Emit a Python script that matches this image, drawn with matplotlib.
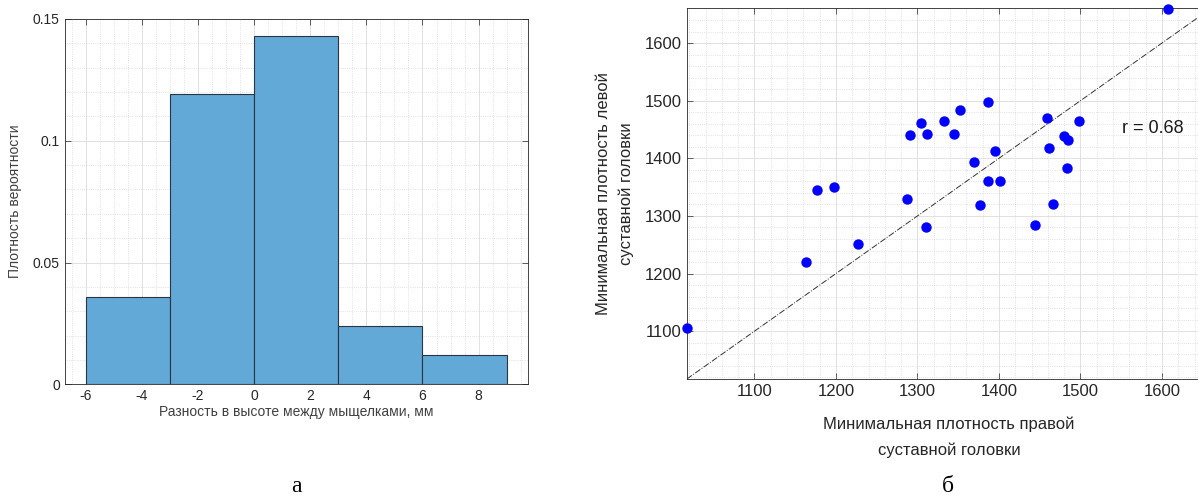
import numpy as np
import matplotlib.pyplot as plt
from matplotlib.ticker import MultipleLocator

plt.rcParams['font.family'] = ['Liberation Sans', 'DejaVu Sans']
plt.rcParams['axes.unicode_minus'] = False

# histogram (a): bin edges and probability density
bin_edges = [-6, -3, 0, 3, 6, 9]
density = [0.0357, 0.1190, 0.1429, 0.0238, 0.0119]
hist_yticks = [0, 0.05, 0.1, 0.15]
hist_yticklabels = ['0', '0.05', '0.1', '0.15']
hist_xticks = [-6, -4, -2, 0, 2, 4, 6, 8]

# scatter (б): min density right vs left condyle
right_min = [1017, 1163, 1177, 1198, 1227, 1287, 1291, 1304, 1312, 1310,
             1333, 1345, 1352, 1369, 1377, 1386, 1387, 1395, 1401, 1444,
             1459, 1462, 1466, 1480, 1485, 1483, 1498, 1607]
left_min = [1105, 1220, 1345, 1351, 1251, 1329, 1441, 1461, 1442, 1280,
            1464, 1443, 1483, 1394, 1319, 1497, 1360, 1413, 1360, 1284,
            1470, 1418, 1320, 1439, 1432, 1383, 1464, 1659]
sc_ticks = [1100, 1200, 1300, 1400, 1500, 1600]
r_text = 'r = 0.68'

axis_col = '#262626'


def matlab_style(ax, fs):
    for s in ax.spines.values():
        s.set_color(axis_col)
        s.set_linewidth(0.6)
    ax.tick_params(which='both', direction='in', top=True, right=True,
                   colors=axis_col, labelsize=fs, width=0.5)
    ax.tick_params(which='major', length=4)
    ax.tick_params(which='minor', length=0)
    ax.grid(True, which='major', color='#dcdcdc', linewidth=0.6)
    ax.grid(True, which='minor', color='#cfcfcf', linewidth=0.5, linestyle=':')
    ax.set_axisbelow(True)


fig = plt.figure(figsize=(11.98, 4.97), dpi=100)

# --- (a) histogram
ax1 = fig.add_axes([0.054, 0.2268, 0.3865, 0.735])
ax1.bar(bin_edges[:-1], density, width=np.diff(bin_edges), align='edge',
        color='#63a9d8', edgecolor='#2a3540', linewidth=0.8, zorder=3)
ax1.set_xlim(-6.75, 9.75)
ax1.set_ylim(0, 0.15)
ax1.set_xticks(hist_xticks)
ax1.set_yticks(hist_yticks)
ax1.set_yticklabels(hist_yticklabels)
ax1.xaxis.set_minor_locator(MultipleLocator(0.5))
ax1.yaxis.set_minor_locator(MultipleLocator(0.01))
matlab_style(ax1, 10)
ax1.set_xlabel('Разность в высоте между мыщелками, мм', fontsize=10,
               color='#404040', labelpad=1)
ax1.set_ylabel('Плотность вероятности', fontsize=10, color='#404040',
               labelpad=8)

# --- (б) scatter
ax2 = fig.add_axes([0.5733, 0.2374, 0.4374, 0.7455])
ax2.axline((1100, 1100), slope=1, color='#333333', linestyle='-.',
           linewidth=0.7, zorder=2)
ax2.scatter(right_min, left_min, s=42, color='#0000ff', zorder=4,
            clip_on=False)
ax2.set_xlim(1017, 1660)
ax2.set_ylim(1017, 1660)
ax2.set_xticks(sc_ticks)
ax2.set_yticks(sc_ticks)
ax2.xaxis.set_minor_locator(MultipleLocator(20))
ax2.yaxis.set_minor_locator(MultipleLocator(20))
matlab_style(ax2, 12)
ax2.text(1551, 1451, r_text, fontsize=13, color='#1a1a1a', va='center')
ax2.set_xlabel('Минимальная плотность правой\nсуставной головки',
               fontsize=12, color='#262626', labelpad=13, linespacing=1.8)
ax2.set_ylabel('Минимальная плотность левой\nсуставной головки',
               fontsize=12, color='#262626', labelpad=8, linespacing=1.55)

# subplot captions
fig.text(296 / 1198, 1 - 487 / 497, 'а', fontsize=17,
         family='Liberation Serif', ha='center', va='center')
fig.text(948 / 1198, 1 - 487 / 497, 'б', fontsize=17,
         family='Liberation Serif', ha='center', va='center')

fig.savefig('out.png', dpi=100)
